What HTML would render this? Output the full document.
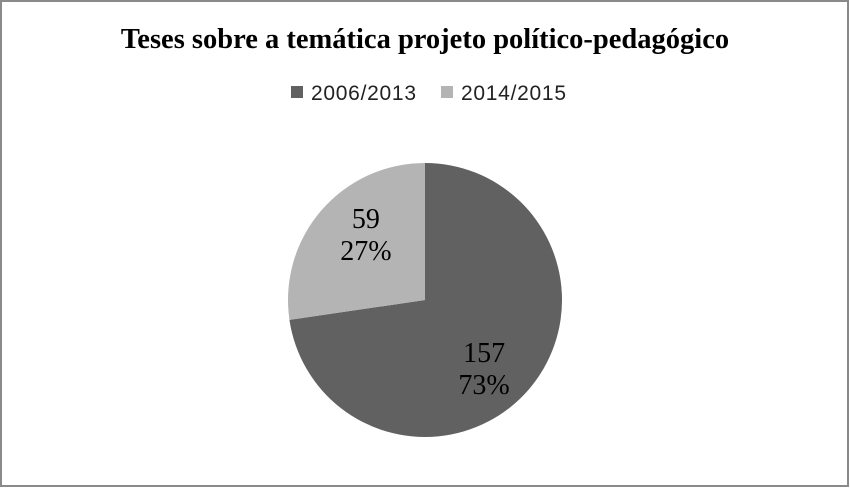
<!DOCTYPE html>
<html><head><meta charset="utf-8"><style>
html,body{margin:0;padding:0;background:#fff;}
svg{display:block;}
</style></head><body>
<svg width="850" height="488" viewBox="0 0 850 488" xmlns="http://www.w3.org/2000/svg">
<rect x="1" y="1" width="847" height="485" fill="#fff" stroke="#8a8a8a" stroke-width="2"/>
<text x="425" y="48" text-anchor="middle" font-family="Liberation Serif, serif" font-weight="bold" font-size="28.5" fill="#000">Teses sobre a temática projeto político-pedagógico</text>
<g id="legend"></g>
<g id="pie"></g>
<g id="labels"></g>
</svg>
<script>
const categories = ["2006/2013", "2014/2015"];
const values = [157, 59];
const percentLabels = ["73%", "27%"];
const colors = ["#616161", "#b4b4b4"];
const NS = "http://www.w3.org/2000/svg";
const cx = 425, cy = 300, r = 137;
const total = values.reduce((a, b) => a + b, 0);
const pie = document.getElementById('pie');
const labels = document.getElementById('labels');
const legend = document.getElementById('legend');
function pt(a, rr) { return [cx + rr * Math.sin(a), cy - rr * Math.cos(a)]; }
let start = 0;
values.forEach((v, i) => {
  const ang = v / total * 2 * Math.PI;
  const end = start + ang;
  const [x1, y1] = pt(start, r), [x2, y2] = pt(end, r);
  const p = document.createElementNS(NS, 'path');
  p.setAttribute('d', `M${cx},${cy} L${x1},${y1} A${r},${r} 0 ${ang > Math.PI ? 1 : 0} 1 ${x2},${y2} Z`);
  p.setAttribute('fill', colors[i]);
  
  
  pie.appendChild(p);
  const mid = (start + end) / 2;
  const lx = cx + r * 0.57 * Math.sin(mid);
  const ly = cy - r * 0.75 * Math.cos(mid);
  [String(v), percentLabels[i]].forEach((s, k) => {
    const t = document.createElementNS(NS, 'text');
    t.setAttribute('x', lx);
    t.setAttribute('y', ly - 5 + k * 32);
    t.setAttribute('text-anchor', 'middle');
    t.setAttribute('font-family', 'Liberation Serif, serif');
    t.setAttribute('font-size', '28');
    t.textContent = s;
    
    
    labels.appendChild(t);
  });
  start = end;
});
categories.forEach((c, i) => {
  const x = 291 + i * 150;
  const rc = document.createElementNS(NS, 'rect');
  rc.setAttribute('x', x); rc.setAttribute('y', 86);
  rc.setAttribute('width', 12); rc.setAttribute('height', 12);
  rc.setAttribute('fill', colors[i]);
  
  
  legend.appendChild(rc);
  const t = document.createElementNS(NS, 'text');
  t.setAttribute('x', x + 20); t.setAttribute('y', 100);
  t.setAttribute('font-family', 'Liberation Sans, sans-serif');
  t.setAttribute('font-size', '21');
  t.setAttribute('textLength', '105');
  t.setAttribute('fill', '#222');
  t.textContent = c;
  
  
  legend.appendChild(t);
});
</script>
</body></html>
